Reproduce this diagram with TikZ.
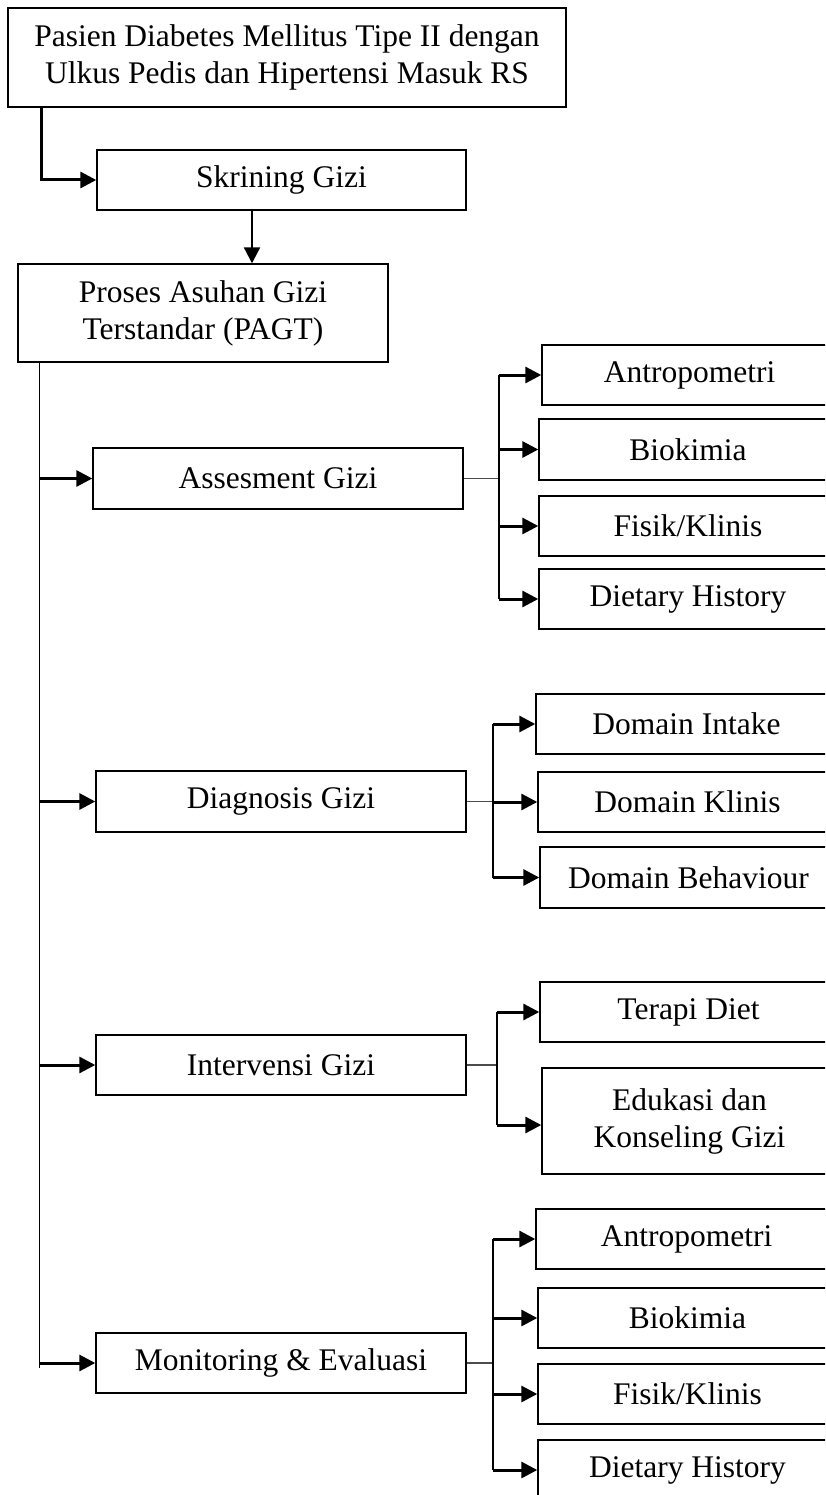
\documentclass[tikz,border=0pt]{standalone}
\usepackage{fontspec}
\setmainfont{Liberation Serif}
\usetikzlibrary{arrows.meta}
\begin{document}
\begin{tikzpicture}[x=1pt,y=-1pt,
  box/.style={draw, line width=1.4pt, inner sep=0pt, align=center,
    font=\fontsize{31.5}{37}\selectfont},
  tarrow/.style={line width=3pt, -{Triangle[length=16pt,width=16pt]}},
  marrow/.style={line width=2.2pt, -{Triangle[length=16pt,width=16pt]}},
  thinline/.style={line width=1.4pt},
  greyline/.style={line width=1.4pt, draw=black!70}
]
\useasboundingbox (0,0) rectangle (825,1495);
\clip (0,0) rectangle (825,1495);

% main column
\node[box, minimum width=558pt, minimum height=99pt] (top) at (287,57.5)
  {Pasien Diabetes Mellitus Tipe II dengan\\Ulkus Pedis dan Hipertensi Masuk RS};
\node[box, minimum width=369pt, minimum height=60pt] (skr) at (281.5,180) {Skrining Gizi};
\node[box, minimum width=370pt, minimum height=98pt] (pagt) at (203,313)
  {Proses Asuhan Gizi\\Terstandar (PAGT)};

\node[box, minimum width=370pt, minimum height=61pt] (ass) at (278,478.5) {Assesment Gizi};
\node[box, minimum width=370pt, minimum height=61pt] (diag) at (281,801.5) {Diagnosis Gizi};
\node[box, minimum width=370pt, minimum height=60pt] (int) at (281,1065) {Intervensi Gizi};
\node[box, minimum width=370pt, minimum height=60pt] (mon) at (281,1363) {Monitoring \& Evaluasi};

% assessment children
\node[box, minimum width=295pt, minimum height=60pt] (a1) at (689.5,375) {Antropometri};
\node[box, minimum width=298pt, minimum height=61pt] (a2) at (688,449.5) {Biokimia};
\node[box, minimum width=298pt, minimum height=60pt] (a3) at (688,526) {Fisik/Klinis};
\node[box, minimum width=298pt, minimum height=60pt] (a4) at (688,599) {Dietary History};

% diagnosis children
\node[box, minimum width=301pt, minimum height=60pt] (d1) at (686.5,724) {Domain Intake};
\node[box, minimum width=299pt, minimum height=60pt] (d2) at (687.5,802) {Domain Klinis};
\node[box, minimum width=297pt, minimum height=61pt] (d3) at (688.5,877.5) {Domain Behaviour};

% intervention children
\node[box, minimum width=297pt, minimum height=60pt] (i1) at (688.5,1012) {Terapi Diet};
\node[box, minimum width=295pt, minimum height=106pt] (i2) at (689.5,1121)
  {Edukasi dan\\Konseling Gizi};

% monitoring children
\node[box, minimum width=301pt, minimum height=60pt] (m1) at (686.5,1239) {Antropometri};
\node[box, minimum width=299pt, minimum height=60pt] (m2) at (687.5,1318) {Biokimia};
\node[box, minimum width=299pt, minimum height=60pt] (m3) at (687.5,1394) {Fisik/Klinis};
\node[box, minimum width=299pt, minimum height=60pt] (m4) at (687.5,1470) {Dietary History};

% top -> skrining
\draw[tarrow] ([xshift=34pt]top.south west) |- (skr.west);
% skrining -> pagt
\coordinate (sdown) at ([xshift=-29.5pt]skr.south);
\draw[marrow] (sdown) -- (sdown |- pagt.north);

% main trunk
\coordinate (trunkT) at ([xshift=22pt]pagt.south west);
\coordinate (trunkB) at (trunkT |- 0,1368);
\draw[thinline] (trunkT) -- (trunkB);
\foreach \n in {ass,diag,int,mon}{
  \draw[tarrow] (trunkT |- \n.west) -- (\n.west);
}

% assessment branch
\coordinate (ab) at (499,0);
\draw[greyline] (ass.east) -- (ab |- ass.east);
\draw[thinline] (ab |- a1.west) -- (ab |- a4.west);
\foreach \n in {a1,a2,a3,a4}{
  \draw[tarrow] (ab |- \n.west) -- (\n.west);
}

% diagnosis branch
\coordinate (db) at (493,0);
\draw[greyline] (diag.east) -- (db |- diag.east);
\draw[thinline] (db |- d1.west) -- (db |- d3.west);
\foreach \n in {d1,d2,d3}{
  \draw[tarrow] (db |- \n.west) -- (\n.west);
}

% intervention branch
\coordinate (ib) at (497,0);
\draw[greyline] (int.east) -- (ib |- int.east);
\draw[thinline] (ib |- i1.west) -- (ib |- 0,1125);
\draw[tarrow] (ib |- i1.west) -- (i1.west);
\draw[tarrow] (ib |- 0,1125) -- (i2.west |- 0,1125);

% monitoring branch
\coordinate (mb) at (493,0);
\draw[greyline] (mon.east) -- (mb |- mon.east);
\draw[thinline] (mb |- m1.west) -- (mb |- m4.west);
\foreach \n in {m1,m2,m3,m4}{
  \draw[tarrow] (mb |- \n.west) -- (\n.west);
}
\end{tikzpicture}
\end{document}
